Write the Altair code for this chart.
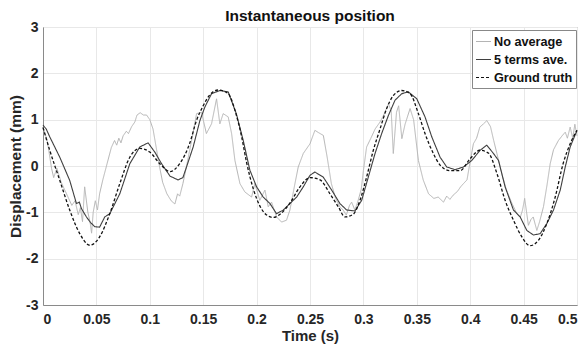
import altair as alt
import pandas as pd

# Ground truth (dashed)
gt_t = [0.000, 0.0063, 0.0157, 0.025, 0.0344, 0.0438, 0.053, 0.0625, 0.0719, 0.0813,
        0.0907, 0.1000, 0.1094, 0.119, 0.128, 0.1375, 0.1437, 0.150, 0.156, 0.164,
        0.173, 0.181, 0.186, 0.1906, 0.197, 0.203, 0.209, 0.2156, 0.222, 0.2312,
        0.2406, 0.250, 0.2594, 0.2687, 0.2765, 0.2827, 0.2905, 0.2968, 0.303, 0.3093,
        0.3156, 0.3218, 0.328, 0.3359, 0.3437, 0.3515, 0.3577, 0.3655, 0.3718, 0.381,
        0.3905, 0.400, 0.409, 0.417, 0.425, 0.4327, 0.4405, 0.4484, 0.456, 0.464,
        0.4718, 0.4796, 0.487, 0.4936, 0.500]
gt_v = [0.83, 0.34, -0.31, -0.95, -1.46, -1.71, -1.53, -1.03, -0.38, 0.19,
        0.38, 0.30, 0.05, -0.12, 0.05, 0.50, 0.98, 1.30, 1.53, 1.64,
        1.57, 1.10, 0.63, 0.08, -0.50, -0.86, -1.05, -1.11, -1.04, -0.80,
        -0.45, -0.25, -0.30, -0.60, -0.88, -1.10, -1.04, -0.74, -0.24, 0.34,
        0.80, 1.24, 1.52, 1.63, 1.56, 1.13, 0.70, 0.27, 0.02, -0.10,
        -0.10, 0.16, 0.34, 0.28, -0.16, -0.74, -1.17, -1.53, -1.72, -1.60,
        -1.24, -0.67, 0.05, 0.48, 0.77]

# 5 terms average (dark solid)
av_t = [0.000, 0.003, 0.0063, 0.0157, 0.025, 0.0313, 0.034, 0.036, 0.0407, 0.0445,
        0.0485, 0.053, 0.0578, 0.0625, 0.0719, 0.0813, 0.0906, 0.0984, 0.1047, 0.111,
        0.119, 0.1265, 0.131, 0.1344, 0.1406, 0.1469, 0.1515, 0.1578, 0.1656, 0.1734,
        0.181, 0.1875, 0.1937, 0.200, 0.2062, 0.2125, 0.2187, 0.225, 0.2312, 0.2375,
        0.2437, 0.250, 0.2546, 0.2624, 0.2703, 0.278, 0.2843, 0.2921, 0.2984, 0.3046,
        0.3109, 0.3171, 0.3234, 0.3296, 0.3359, 0.3421, 0.350, 0.3577, 0.364, 0.3718,
        0.378, 0.3859, 0.3937, 0.4015, 0.4093, 0.4155, 0.4218, 0.4265, 0.4327, 0.4405,
        0.4468, 0.453, 0.4592, 0.4655, 0.4718, 0.478, 0.4843, 0.489, 0.4936, 0.500]
av_v = [0.88, 0.80, 0.63, 0.19, -0.31, -0.81, -0.78, -0.92, -1.10, -1.22,
        -1.31, -1.32, -1.10, -1.03, -0.60, 0.05, 0.41, 0.50, 0.30, 0.05,
        -0.22, -0.30, -0.25, -0.02, 0.41, 0.98, 1.27, 1.56, 1.63, 1.60,
        1.13, 0.55, -0.09, -0.45, -0.67, -0.81, -1.03, -0.95, -0.81, -0.67,
        -0.45, -0.20, -0.13, -0.24, -0.52, -0.81, -0.95, -0.97, -0.74, -0.24,
        0.27, 0.70, 1.09, 1.42, 1.56, 1.60, 1.45, 1.06, 0.63, 0.19,
        -0.02, -0.08, -0.02, 0.12, 0.34, 0.45, 0.27, 0.12, -0.45, -0.95,
        -1.10, -1.39, -1.49, -1.46, -1.24, -0.95, -0.52, -0.02, 0.41, 0.77]

# No average (light gray, noisy)
na_t = [0.000, 0.004, 0.008, 0.010, 0.013, 0.017, 0.022, 0.027, 0.030, 0.033,
        0.035, 0.037, 0.039, 0.042, 0.044, 0.0455, 0.047, 0.049, 0.051, 0.053,
        0.056, 0.060, 0.064, 0.067, 0.069, 0.071, 0.073, 0.075, 0.078, 0.080,
        0.083, 0.086, 0.088, 0.091, 0.094, 0.097, 0.100, 0.103, 0.106, 0.109,
        0.112, 0.116, 0.120, 0.1235, 0.126, 0.128, 0.131, 0.134, 0.137, 0.140,
        0.1438, 0.1484, 0.153, 0.1578, 0.1625, 0.1656, 0.1687, 0.1734, 0.1766, 0.1797,
        0.1844, 0.189, 0.1953, 0.1984, 0.203, 0.2078, 0.2109, 0.214, 0.2187, 0.2234,
        0.228, 0.2312, 0.2359, 0.239, 0.2437, 0.2500, 0.2546, 0.258, 0.2625, 0.266,
        0.270, 0.274, 0.278, 0.281, 0.284, 0.287, 0.289, 0.292, 0.295, 0.298,
        0.300, 0.303, 0.307, 0.311, 0.3156, 0.319, 0.3234, 0.326, 0.328, 0.331,
        0.333, 0.336, 0.339, 0.3437, 0.347, 0.3515, 0.356, 0.361, 0.366, 0.370,
        0.375, 0.378, 0.381, 0.384, 0.388, 0.391, 0.3937, 0.397, 0.400, 0.403,
        0.406, 0.409, 0.412, 0.4156, 0.419, 0.422, 0.425, 0.430, 0.434, 0.439,
        0.4437, 0.447, 0.449, 0.451, 0.4545, 0.457, 0.459, 0.4624, 0.465, 0.4686,
        0.472, 0.4749, 0.478, 0.4826, 0.486, 0.489, 0.491, 0.4936, 0.496, 0.498,
        0.500]
na_v = [0.84, 0.55, -0.05, -0.25, -0.05, -0.35, -0.60, -0.85, -0.75, -1.05,
        -0.90, -1.20, -0.45, -1.00, -1.20, -1.45, -1.00, -0.75, -0.95, -0.60,
        -0.30, 0.05, 0.40, 0.55, 0.45, 0.60, 0.50, 0.65, 0.75, 0.70,
        0.85, 0.95, 1.10, 1.15, 1.10, 1.10, 1.00, 0.80, 0.40, 0.00,
        -0.35, -0.60, -0.75, -0.82, -0.60, -0.65, -0.38, -0.05, 0.30, 0.65,
        1.13, 1.16, 0.70, 0.91, 1.45, 0.91, 1.13, 1.06, 0.70, 0.12,
        -0.38, -0.56, -0.67, -0.38, -0.74, -0.52, -0.88, -0.78, -1.10, -1.21,
        -1.17, -0.95, -0.38, -0.02, 0.27, 0.48, 0.77, 0.72, 0.66, 0.20,
        -0.38, -0.70, -0.88, -0.95, -1.06, -0.85, -0.78, -0.95, -0.75, -0.50,
        -0.10, 0.41, 0.60, 0.80, 0.95, 1.10, 1.34, 1.20, 0.27, 1.16,
        1.30, 0.59, 0.90, 1.24, 1.00, 0.12, -0.30, -0.60, -0.70, -0.67,
        -0.78, -0.65, -0.72, -0.63, -0.55, -0.45, -0.38, -0.30, 0.10, 0.48,
        0.60, 0.84, 0.90, 0.98, 0.85, 0.55, 0.27, -0.20, -0.52, -0.80,
        -1.03, -1.10, -0.95, -0.70, -1.28, -1.15, -1.10, -1.39, -1.20, -0.88,
        -0.40, 0.05, 0.35, 0.55, 0.65, 0.73, 0.60, 0.84, 0.60, 0.90,
        0.65]

series = ["No average", "5 terms ave.", "Ground truth"]
colors = ["#b4b4b4", "#3f3f3f", "#111111"]
dashes = [[1, 0], [1, 0], [3, 2]]

frames = []
for name, tt, vv in [(series[0], na_t, na_v), (series[1], av_t, av_v), (series[2], gt_t, gt_v)]:
    frames.append(pd.DataFrame({"t": tt, "v": vv, "series": name, "order": range(len(tt))}))
df = pd.concat(frames, ignore_index=True)

FONT = "Liberation Sans"

x_enc = alt.X("t:Q", title="Time (s)",
              scale=alt.Scale(domain=[0, 0.5], nice=False),
              axis=alt.Axis(values=[0, 0.05, 0.1, 0.15, 0.2, 0.25, 0.3, 0.35, 0.4, 0.45, 0.5],
                            labelExpr="format(datum.value, '~g')",
                            labelPadding=7, titlePadding=2, titleFontSize=15))
y_enc = alt.Y("v:Q", title="Displacement (mm)",
              scale=alt.Scale(domain=[-3, 3], nice=False),
              axis=alt.Axis(values=[-3, -2, -1, 0, 1, 2, 3],
                            labelExpr="'' + datum.value",
                            labelPadding=5, titlePadding=2, titleFontSize=15.5))
color_enc = alt.Color("series:N", title=None,
                      scale=alt.Scale(domain=series, range=colors),
                      legend=alt.Legend(orient="none", legendX=429, legendY=3,
                                        symbolType="stroke", symbolSize=225,
                                        symbolStrokeWidth=1.2, labelFont=FONT,
                                        labelFontSize=12.7, labelFontWeight="bold",
                                        labelColor="#111", fillColor="white",
                                        strokeColor="#888", padding=3,
                                        rowPadding=2, labelOffset=2))
dash_enc = alt.StrokeDash("series:N", title=None,
                          scale=alt.Scale(domain=series, range=dashes))

base = alt.Chart(df)
layers = []
widths = [1.0, 1.1, 1.3]
for name, w in zip(series, widths):
    layers.append(
        base.transform_filter(alt.datum.series == name)
        .mark_line(strokeWidth=w, interpolate="monotone" if name == "Ground truth" else "linear")
        .encode(x=x_enc, y=y_enc, color=color_enc, strokeDash=dash_enc,
                order=alt.Order("order:Q"))
    )

chart = alt.layer(*layers).properties(
    width=534, height=278,
    title=alt.TitleParams("Instantaneous position", font=FONT, fontSize=15.5,
                          fontWeight="bold", color="#111", offset=0, dy=4),
    autosize=alt.AutoSizeParams(type="none"),
    padding={"left": 43, "top": 27, "right": 9, "bottom": 44},
).configure_view(stroke="#8a8a8a", strokeWidth=1).configure_axis(
    labelFont=FONT, labelFontSize=14, labelFontWeight="bold", labelColor="#262626",
    titleFont=FONT, titleFontWeight="bold", titleColor="#262626",
    gridColor="#e8e8e8", domainColor="#8a8a8a", tickSize=0,
)

chart.save("out.html", embed_options={"renderer": "svg", "actions": False})
